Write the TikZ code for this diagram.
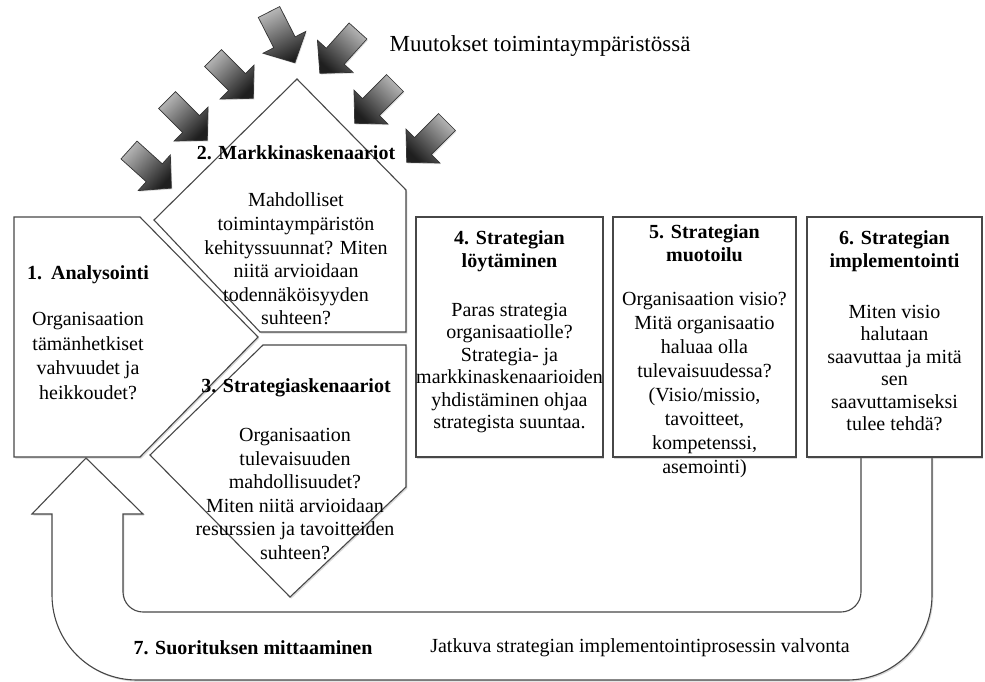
\documentclass[tikz,border=0pt]{standalone}
\usepackage{fontspec}
\setmainfont{Liberation Serif}
\usetikzlibrary{shadows,calc}

\begin{document}
\begin{tikzpicture}[x=1pt,y=-1pt,
  panel/.style={draw=black!72, line width=1.1pt, fill=white, line join=miter,
    drop shadow={shadow xshift=1.3pt, shadow yshift=-1.6pt, opacity=0.3}},
  boxnode/.style={panel, rectangle, inner sep=0pt, minimum height=240pt},
  bodytxt/.style={font=\fontsize{20}{23.6}\selectfont, align=center, inner sep=0pt},
  headtxt/.style={font=\fontsize{20}{23}\selectfont\bfseries, align=center, inner sep=0pt},
  envarrow/.style={draw=black!80, line width=0.7pt, line join=miter,
    drop shadow={shadow xshift=1pt, shadow yshift=-1.2pt, opacity=0.25}},
]
\useasboundingbox (0,0) rectangle (985,681);

% feedback loop: block arrow from step 6 back to step 1
\path[panel] (932,457) -- (932,595)
  .. controls (932,642) and (894,680) .. (847,680) -- (137,680)
  .. controls (90,680) and (52,642) .. (52,595) -- (52,514) -- (32,514)
  -- (86,458) -- (143,514) -- (123,514) -- (123,592)
  .. controls (123,603) and (132,612) .. (143,612) -- (841,612)
  .. controls (852,612) and (861,603) .. (861,592) -- (861,457) -- cycle;

% step 1: pentagon pointing right
\path[panel] (14,217) -- (140,217) -- (258,337) -- (140,457) -- (14,457) -- cycle;
% step 2: chevron pointing up
\path[panel] (297,79) -- (406,190) -- (406,332) -- (260,332) -- (154,220) -- cycle;
% step 3: chevron pointing down
\path[panel] (263,345) -- (406,345) -- (406,487) -- (290,597) -- (150,455) -- cycle;

% steps 4-6
\node[boxnode, minimum width=187pt] (b4) at (509.5,337) {};
\node[boxnode, minimum width=183pt] (b5) at (704.5,337) {};
\node[boxnode, minimum width=175pt] (b6) at (894.5,337) {};

% pressure arrows from the environment
\foreach \px/\py/\ang in {269/12/-63, 358/31/-132, 213/58/-45, 167/100/-45,
                          129/150/-42, 395/83/-135, 447/122/-135}{
  \pgfmathsetmacro\sang{\ang-90}
  \begin{scope}[shift={(\px,\py)}, rotate=\ang]
    \path[envarrow, top color=black!88, bottom color=black!28, shading angle=\sang]
      (0,-12) -- (34,-12) -- (34,-24) -- (57,0) -- (34,24) -- (34,12) -- (0,12) -- cycle;
  \end{scope}
}

% texts
\node[font=\fontsize{23}{27}\selectfont, inner sep=0pt] (title) at (540,46)
  {Muutokset toimintaympäristössä};

\node[headtxt] (h1) at (88,275) {1.\hspace{9pt}Analysointi};
\node[bodytxt, font=\fontsize{20}{24.7}\selectfont] (t1) at (88,356)
  {Organisaation\\tämänhetkiset\\vahvuudet ja\\heikkoudet?};

\node[headtxt] (h2) at (296,153) {2. Markkinaskenaariot};
\node[bodytxt] (t2) at (296,259)
  {Mahdolliset\\toimintaympäristön\\kehityssuunnat? Miten\\niitä arvioidaan\\todennäköisyyden\\suhteen?};

\node[headtxt] (h3) at (296,388) {3. Strategiaskenaariot};
\node[bodytxt] (t3) at (295,494)
  {Organisaation\\tulevaisuuden\\mahdollisuudet?\\Miten niitä arvioidaan\\resurssien ja tavoitteiden\\suhteen?};

\node[headtxt] (h4) at (509.5,251.5) {4. Strategian\\löytäminen};
\node[bodytxt, font=\fontsize{20}{22.4}\selectfont] (t4) at (509.5,368)
  {Paras strategia\\organisaatiolle?\\Strategia- ja\\markkinaskenaarioiden\\yhdistäminen ohjaa\\strategista suuntaa.};

\node[headtxt] (h5) at (704.5,243.5) {5. Strategian\\muotoilu};
\node[bodytxt, font=\fontsize{20}{24.1}\selectfont] (t5) at (704.5,385)
  {Organisaation visio?\\Mitä organisaatio\\haluaa olla\\tulevaisuudessa?\\(Visio/missio,\\tavoitteet,\\kompetenssi,\\asemointi)};

\node[headtxt] (h6) at (894.5,251.5) {6. Strategian\\implementointi};
\node[bodytxt, font=\fontsize{20}{22.4}\selectfont] (t6) at (894.5,368)
  {Miten visio\\halutaan\\saavuttaa ja mitä\\sen\\saavuttamiseksi\\tulee tehdä?};

\node[headtxt] (h7) at (253,648) {7. Suorituksen mittaaminen};
\node[bodytxt] (t7) at (640,648) {Jatkuva strategian implementointiprosessin valvonta};
\end{tikzpicture}
\end{document}
